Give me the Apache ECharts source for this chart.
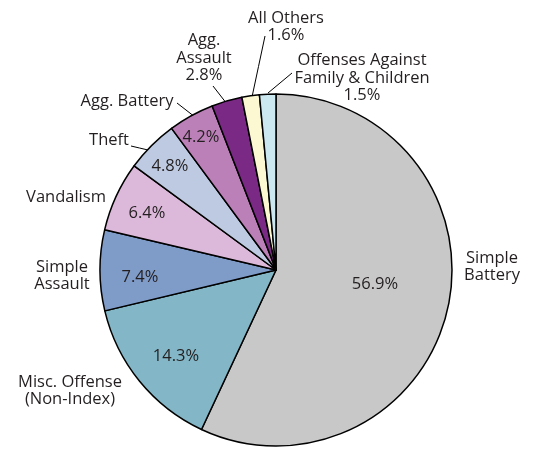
<!DOCTYPE html>
<html>
<head>
<meta charset="utf-8">
<script src="https://cdn.jsdelivr.net/npm/echarts@6/dist/echarts.min.js"></script>
<style>
html,body{margin:0;padding:0;background:#fff;}
#chart{width:533px;height:450px;}
</style>
</head>
<body>
<div id="chart"></div>
<script>
var categories = ['Simple\nBattery', 'Misc. Offense\n(Non-Index)', 'Simple\nAssault', 'Vandalism', 'Theft', 'Agg. Battery', 'Agg.\nAssault', 'All Others', 'Offenses Against\nFamily & Children'];
var values = [56.9, 14.3, 7.4, 6.4, 4.8, 4.2, 2.8, 1.6, 1.5];
var colors = ['#c8c8c8', '#83b7c7', '#7f9bc8', '#dcb9da', '#bdcae1', '#bc80b9', '#7a2984', '#fcf9d2', '#cbe8f1'];
var pctInside = [true, true, true, true, true, true, false, false, false];

// label layout (pixels)
var insidePos = [[375, 284], [176, 356], [140, 277], [147, 213], [170, 166], [201, 137], null, null, null];
var outsidePos = [[492, 267], [70, 391], [62, 276], [66, 197], [109, 140], [127, 101], [204, 58], [286, 27], [362, 78]];
var leaderLines = [null, null, null, null, [[131, 146], [148, 150]], [[177, 103], [195, 117]], [[213, 86], [227, 104]], [[265, 36], [252, 97]], [[292, 73], [268, 93]]];

var FONT = 'Open Sans';
var TXT = '#231f20';
var CENTER = [276, 270];
var RADIUS = 176;

var innerData = categories.map(function (c, i) {
  return {
    name: c, value: values[i],
    itemStyle: { color: colors[i] },
    label: { show: pctInside[i] }
  };
});
var outerData = categories.map(function (c, i) {
  return {
    name: c, value: values[i],
    labelLine: { show: !!leaderLines[i] }
  };
});

var chart = echarts.init(document.getElementById('chart'), null, { renderer: 'canvas' });
chart.setOption({
  animation: false,
  backgroundColor: '#ffffff',
  series: [
    {
      type: 'pie',
      center: CENTER,
      radius: RADIUS,
      startAngle: 90,
      clockwise: true,
      silent: true,
      itemStyle: { borderColor: '#000', borderWidth: 1.5 },
      label: {
        position: 'inside',
        fontFamily: FONT, fontSize: 16.5, color: TXT,
        overflow: 'none',
        formatter: function (p) { return values[p.dataIndex].toFixed(1) + '%'; }
      },
      labelLine: { show: false },
      labelLayout: function (p) {
        var pos = insidePos[p.dataIndex];
        if (!pos) return {};
        return { x: pos[0], y: pos[1], align: 'center', verticalAlign: 'middle' };
      },
      data: innerData
    },
    {
      type: 'pie',
      center: CENTER,
      radius: RADIUS,
      startAngle: 90,
      clockwise: true,
      silent: true,
      itemStyle: { color: 'rgba(0,0,0,0)', borderWidth: 0 },
      label: {
        position: 'outside',
        fontFamily: FONT, fontSize: 16.5, color: TXT, lineHeight: 17.5,
        align: 'center',
        overflow: 'none',
        edgeDistance: 0,
        formatter: function (p) {
          var i = p.dataIndex;
          return pctInside[i] ? categories[i] : categories[i] + '\n' + values[i].toFixed(1) + '%';
        }
      },
      labelLine: { show: true, lineStyle: { color: '#000', width: 1 } },
      labelLayout: function (p) {
        var i = p.dataIndex;
        var pos = outsidePos[i];
        var res = { x: pos[0], y: pos[1], align: 'center', verticalAlign: 'middle', width: 200 };
        var ll = leaderLines[i];
        if (ll) {
          res.labelLinePoints = [ll[0], [(ll[0][0] + ll[1][0]) / 2, (ll[0][1] + ll[1][1]) / 2], ll[1]];
        }
        return res;
      },
      data: outerData
    }
  ]
});
</script>
</body>
</html>
